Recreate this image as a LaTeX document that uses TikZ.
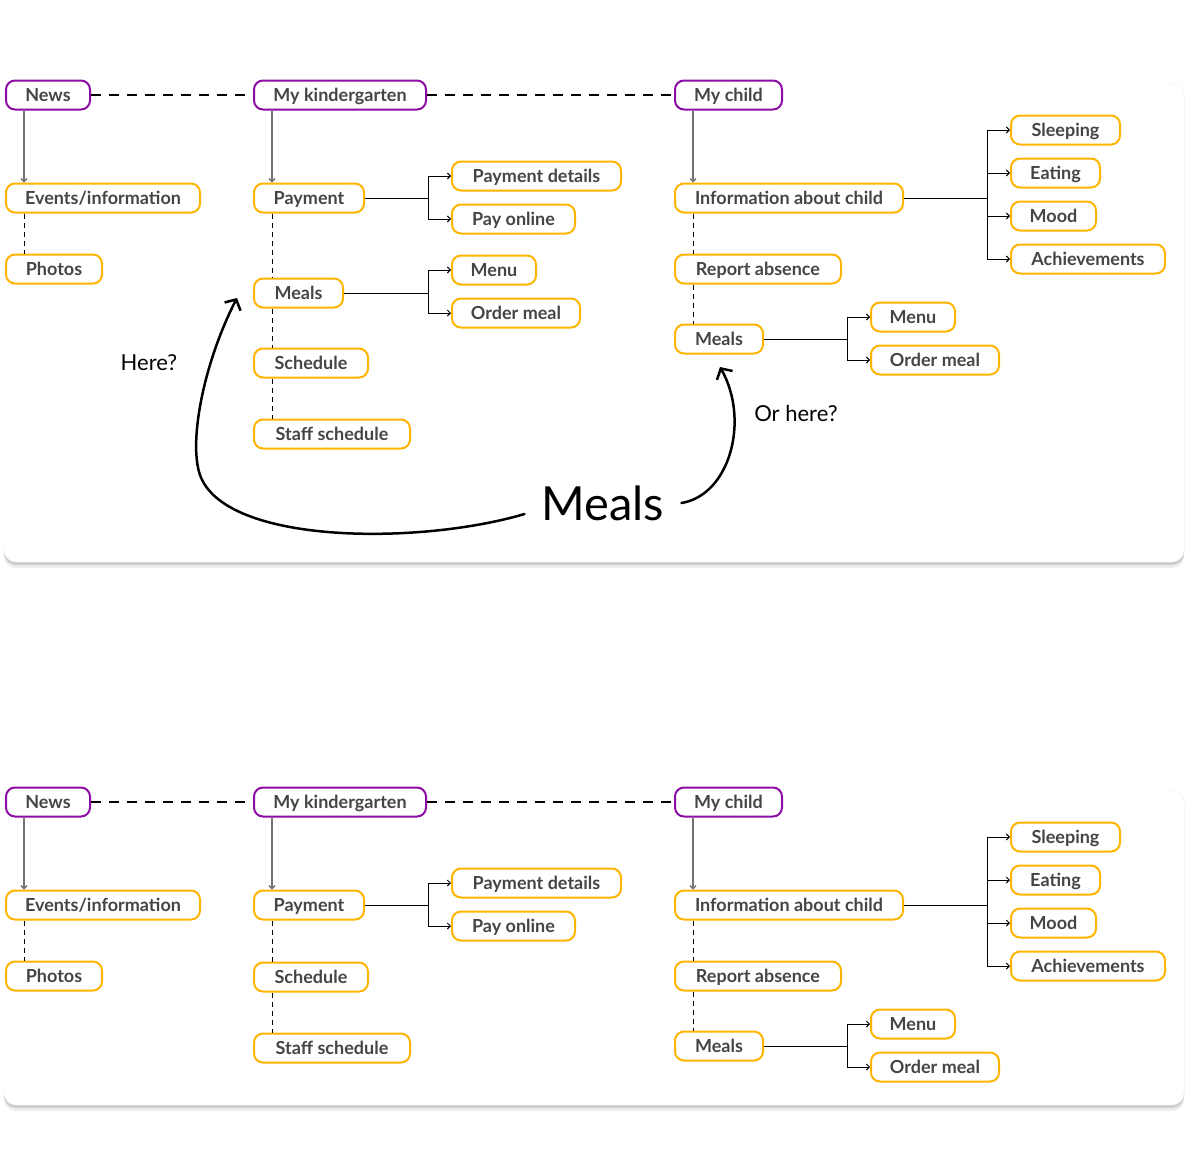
\documentclass[tikz,border=0pt]{standalone}
\usepackage{xcolor}
\usepackage{fontspec}
\setmainfont{Lato}
\usepackage{tikz}
\usetikzlibrary{arrows.meta}
\usetikzlibrary{calc}
\definecolor{amber}{HTML}{FFB400}
\definecolor{plum}{HTML}{8C0DA6}
\definecolor{ink}{HTML}{454545}
\tikzset{>={Straight Barb[length=3pt,width=6pt]}}
\tikzstyle{menubox} = [rectangle, rounded corners=9pt, line width=2pt, minimum height=29, inner xsep=0pt, text height=13pt, text depth=0pt, text=ink, font=\fontsize{18}{21}\selectfont\bfseries, anchor=west]
\tikzstyle{menuhead} = [menubox, draw=plum]
\tikzstyle{menuitem} = [menubox, draw=amber]
\tikzstyle{down} = [->, draw=black!55, line width=1.3pt]
\tikzstyle{link} = [->, line width=1pt]
\tikzstyle{seq} = [-, dash pattern=on 5pt off 4pt, line width=0.9pt]
\tikzstyle{peer} = [-, dash pattern=on 10pt off 8pt, line width=2pt]
\tikzstyle{hand} = [-{Straight Barb[length=8pt,width=18pt]}, line width=2.5pt, line cap=round]
\tikzstyle{note} = [draw=none, font=\fontsize{22}{26}\selectfont]

\begin{document}
\begin{tikzpicture}[x=1pt, y=-1pt]
\useasboundingbox (0,0) rectangle (1191,1165);
\fill[white] (0,0) rectangle (1191,1165);
% panels
\foreach \top/\bot in {83/562, 790/1105} {
  \fill[black!7, rounded corners=12pt] (4,\top+4) rectangle (1184,\bot+6);
  \fill[black!20, rounded corners=12pt] (4,\top+2) rectangle (1184,\bot+3);
  \fill[white, draw=black!6, rounded corners=12pt] (4,\top) rectangle (1184,\bot);
}
% common part of both panels
\foreach \p/\dy in {1/0, 2/707} {
  \node [menuhead, minimum width=84]  (news\p) at (5,{95+\dy}) {News};
  \node [menuhead, minimum width=172] (mk\p) at (253,{95+\dy}) {My kindergarten};
  \node [menuhead, minimum width=107] (mc\p) at (674,{95+\dy}) {My child};
  \node [menuitem, minimum width=194] (ev\p) at (5,{198+\dy}) {Events/information};
  \node [menuitem, minimum width=96]  (ph\p) at (5,{269+\dy}) {Photos};
  \node [menuitem, minimum width=110] (pay\p) at (253,{198+\dy}) {Payment};
  \node [menuitem, minimum width=169] (pd\p) at (451,{176+\dy}) {Payment details};
  \node [menuitem, minimum width=123] (po\p) at (451,{219+\dy}) {Pay online};
  \node [menuitem, minimum width=228] (info\p) at (674,{198+\dy}) {Information about child};
  \node [menuitem, minimum width=166] (rep\p) at (674,{269+\dy}) {Report absence};
  \node [menuitem, minimum width=88]  (cmeal\p) at (674,{339+\dy}) {Meals};
  \node [menuitem, minimum width=109] (sl\p) at (1010,{130+\dy}) {Sleeping};
  \node [menuitem, minimum width=89]  (eat\p) at (1010,{173+\dy}) {Eating};
  \node [menuitem, minimum width=85]  (mood\p) at (1010,{216+\dy}) {Mood};
  \node [menuitem, minimum width=154] (ach\p) at (1010,{259+\dy}) {Achievements};
  \node [menuitem, minimum width=84]  (cmenu\p) at (870,{317+\dy}) {Menu};
  \node [menuitem, minimum width=128] (cord\p) at (870,{360+\dy}) {Order meal};
  \draw [peer] (news\p) -- (mk\p);
  \draw [peer] (mk\p) -- (mc\p);
  \draw [down] ([xshift=19]news\p.south west) -- ([xshift=19]ev\p.north west);
  \draw [seq] ([xshift=19]ev\p.south west) -- ([xshift=19]ph\p.north west);
  \draw [down] ([xshift=19]mk\p.south west) -- ([xshift=19]pay\p.north west);
  \draw [down] ([xshift=19]mc\p.south west) -- ([xshift=19]info\p.north west);
  \draw [seq] ([xshift=19]info\p.south west) -- ([xshift=19]rep\p.north west);
  \draw [seq] ([xshift=19]rep\p.south west) -- ([xshift=19]cmeal\p.north west);
  \foreach \t in {pd, po}
    \draw [link] (pay\p.east) -| ([xshift=-23]\t\p.west) -- (\t\p.west);
  \foreach \t in {sl, eat, mood, ach}
    \draw [link] (info\p.east) -| ([xshift=-23]\t\p.west) -- (\t\p.west);
  \foreach \t in {cmenu, cord}
    \draw [link] (cmeal\p.east) -| ([xshift=-23]\t\p.west) -- (\t\p.west);
}
% first panel: meals under my kindergarten
\node [menuitem, minimum width=89]  (meal1) at (253,293) {Meals};
\node [menuitem, minimum width=114] (sch1) at (253,363) {Schedule};
\node [menuitem, minimum width=156] (staff1) at (253,434) {Staff schedule};
\node [menuitem, minimum width=84]  (menu1) at (451,270) {Menu};
\node [menuitem, minimum width=128] (ord1) at (451,313) {Order meal};
\draw [seq] ([xshift=19]pay1.south west) -- ([xshift=19]meal1.north west);
\draw [seq] ([xshift=19]meal1.south west) -- ([xshift=19]sch1.north west);
\draw [seq] ([xshift=19]sch1.south west) -- ([xshift=19]staff1.north west);
\foreach \t in {menu1, ord1}
  \draw [link] (meal1.east) -| ([xshift=-23]\t.west) -- (\t.west);
% second panel
\node [menuitem, minimum width=114] (sch2) at (253,977) {Schedule};
\node [menuitem, minimum width=156] (staff2) at (253,1048) {Staff schedule};
\draw [seq] ([xshift=19]pay2.south west) -- ([xshift=19]sch2.north west);
\draw [seq] ([xshift=19]sch2.south west) -- ([xshift=19]staff2.north west);
% the question
\node [note] (here) at (149,363) {Here?};
\node [note] (orhere) at (796,413) {Or here?};
\node [draw=none, font=\fontsize{47}{56}\selectfont, inner xsep=17pt] (bigmeal) at (603,503) {Meals};
\coordinate (tipA) at (237,298);
\coordinate (tipB) at (720,367);
\draw [hand] ([yshift=-11pt]bigmeal.west) .. controls (420,545) and (225,545) .. (200,475)
  .. controls (188,440) and (205,360) .. (tipA);
\draw [hand] (bigmeal.east) .. controls (730,495) and (750,420) .. (tipB);
\end{tikzpicture}
\end{document}
